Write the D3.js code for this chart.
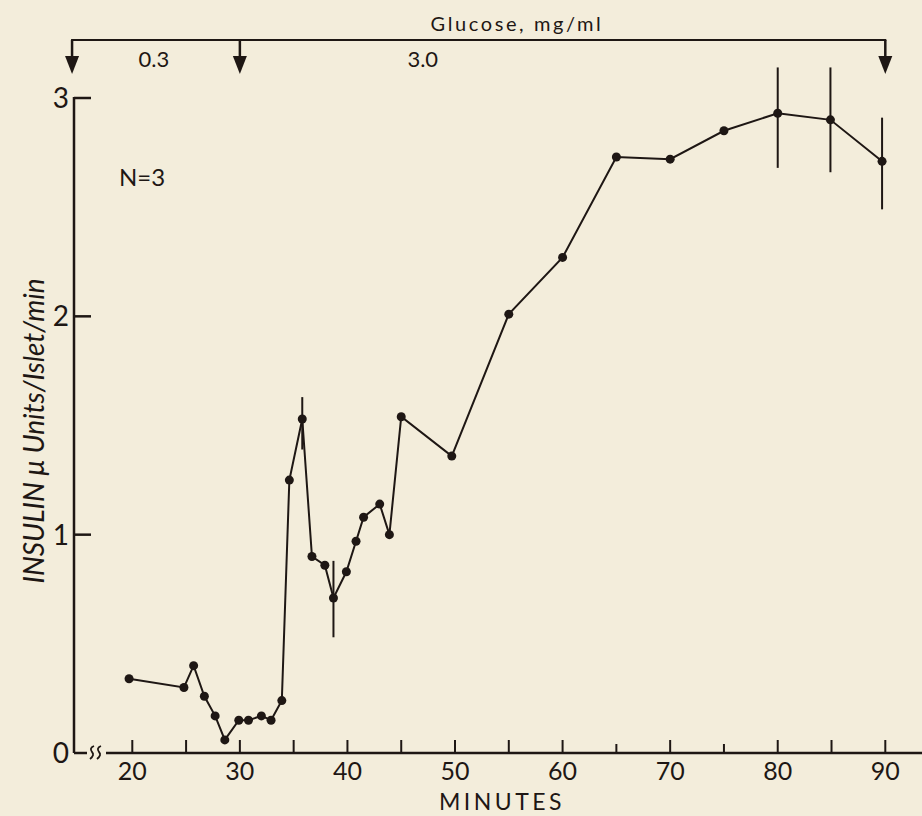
<!DOCTYPE html>
<meta charset='utf-8'>
<title>Insulin release vs time</title>
<style>
html, body {
  margin: 0;
  padding: 0;
  background: #f3eddb;
}
text {
  font-family: 'Lato', 'Open Sans', sans-serif;
  fill: #1e1714;
}
</style>
<script src='https://d3js.org/d3.v7.min.js'></script>
<body>
<script>
// Values
var minutes = [19.7, 24.8, 25.7, 26.7, 27.7, 28.6, 29.9, 30.8, 32.0, 32.9, 33.9,
  34.6, 35.8, 36.7, 37.9, 38.7, 39.9, 40.8, 41.5, 43.0, 43.9, 45.0, 49.7,
  55, 60, 65, 70, 75, 80, 84.9, 89.7];
var insulin = [0.34, 0.30, 0.40, 0.26, 0.17, 0.06, 0.15, 0.15, 0.17, 0.15, 0.24,
  1.25, 1.53, 0.90, 0.86, 0.71, 0.83, 0.97, 1.08, 1.14, 1.00, 1.54, 1.36,
  2.01, 2.27, 2.73, 2.72, 2.85, 2.93, 2.90, 2.71];

// Error bars (low / high)
var errMinutes = [35.8, 38.7, 80, 84.9, 89.7];
var errLow = [1.39, 0.53, 2.68, 2.66, 2.49];
var errHigh = [1.63, 0.88, 3.14, 3.14, 2.91];

var xTicks = [20, 25, 30, 35, 40, 45, 50, 55, 60, 65, 70, 75, 80, 85, 90];
var xTickLabels = [20, 30, 40, 50, 60, 70, 80, 90];
var yTicks = [0, 1, 2, 3];

// Glucose steps at the top
var glucoseArrows = [14.4, 30, 90];
var glucoseLabels = ['0.3', '3.0'];
var glucoseLabelAt = [22, 47];

var width = 922, height = 816;
var ink = '#1e1714';

var x = d3.scaleLinear().domain([20, 90]).range([132.3, 885.3]);
var y = d3.scaleLinear().domain([0, 3]).range([753, 98]);
var axisX = 74; // where the y axis stands

var svg = d3.select('body').append('svg')
  .attr('width', width)
  .attr('height', height);

// y axis line + ticks
svg.append('line')
  .attr('x1', axisX).attr('x2', axisX)
  .attr('y1', y(3) - 1).attr('y2', y(0))
  .attr('stroke', ink).attr('stroke-width', 2.5);

svg.selectAll('.ytick')
  .data(yTicks.filter(function (d) { return d > 0; }))
  .enter().append('line')
  .attr('class', 'ytick')
  .attr('x1', axisX).attr('x2', axisX + 17)
  .attr('y1', function (d) { return y(d); })
  .attr('y2', function (d) { return y(d); })
  .attr('stroke', ink).attr('stroke-width', 2.5);

svg.selectAll('.ylab')
  .data(yTicks)
  .enter().append('text')
  .attr('class', 'ylab')
  .attr('x', axisX - 5)
  .attr('y', function (d) { return y(d) + 10; })
  .attr('text-anchor', 'end')
  .attr('font-size', 28)
  .text(function (d) { return d; });

// x axis: short stub, break, then the long line
svg.append('line')
  .attr('x1', axisX).attr('x2', 87)
  .attr('y1', y(0)).attr('y2', y(0))
  .attr('stroke', ink).attr('stroke-width', 2.5);

svg.selectAll('.brk')
  .data([0, 7])
  .enter().append('path')
  .attr('class', 'brk')
  .attr('d', function (d) {
    var bx = 90 + d, by = y(0);
    return 'M' + (bx + 4) + ',' + (by - 7) + 'q-5,2 -2,6 q3,3 -2,7';
  })
  .attr('fill', 'none')
  .attr('stroke', ink).attr('stroke-width', 1.8);

svg.append('line')
  .attr('x1', 106).attr('x2', width)
  .attr('y1', y(0)).attr('y2', y(0))
  .attr('stroke', ink).attr('stroke-width', 2.5);

svg.selectAll('.xtick')
  .data(xTicks)
  .enter().append('line')
  .attr('class', 'xtick')
  .attr('x1', function (d) { return x(d); })
  .attr('x2', function (d) { return x(d); })
  .attr('y1', y(0))
  .attr('y2', function (d) { return y(0) - (d === 65 || d === 75 ? 9 : 13); })
  .attr('stroke', ink).attr('stroke-width', 2);

svg.selectAll('.xlab')
  .data(xTickLabels)
  .enter().append('text')
  .attr('class', 'xlab')
  .attr('x', function (d) { return x(d); })
  .attr('y', y(0) + 27)
  .attr('text-anchor', 'middle')
  .attr('font-size', 25)
  .text(function (d) { return d; });

svg.append('text')
  .attr('x', 502)
  .attr('y', 810)
  .attr('text-anchor', 'middle')
  .attr('font-size', 23)
  .attr('letter-spacing', 3.5)
  .text('MINUTES');

// y title
svg.append('text')
  .attr('transform', 'translate(44,' + 431 + ')rotate(-90)')
  .attr('text-anchor', 'middle')
  .attr('font-size', 28)
  .attr('font-style', 'italic')
  .text('INSULIN \u03bc Units/Islet/min');

svg.append('text')
  .attr('x', 119)
  .attr('y', 186)
  .attr('font-size', 24)
  .text('N=3');

// Glucose bar on top
svg.append('line')
  .attr('x1', x(glucoseArrows[0]) - 1).attr('x2', x(90) + 1)
  .attr('y1', 40).attr('y2', 40)
  .attr('stroke', ink).attr('stroke-width', 2.2);

var arrows = svg.selectAll('.arrow')
  .data(glucoseArrows)
  .enter().append('g')
  .attr('class', 'arrow')
  .attr('transform', function (d) { return 'translate(' + x(d) + ',0)'; });

arrows.append('line')
  .attr('x1', 0).attr('x2', 0)
  .attr('y1', 40).attr('y2', 60)
  .attr('stroke', ink).attr('stroke-width', 2.5);

arrows.append('path')
  .attr('d', 'M-7,56L7,56L0,74Z')
  .attr('fill', ink);

svg.append('text')
  .attr('x', 517)
  .attr('y', 31)
  .attr('text-anchor', 'middle')
  .attr('font-size', 20)
  .attr('letter-spacing', 2.6)
  .text('Glucose, mg/ml');

svg.selectAll('.glab')
  .data(glucoseLabels)
  .enter().append('text')
  .attr('class', 'glab')
  .attr('x', function (d, i) { return x(glucoseLabelAt[i]); })
  .attr('y', 67)
  .attr('text-anchor', 'middle')
  .attr('font-size', 22)
  .text(function (d) { return d; });

// error bars
svg.selectAll('.err')
  .data(errMinutes)
  .enter().append('line')
  .attr('class', 'err')
  .attr('x1', function (d) { return x(d); })
  .attr('x2', function (d) { return x(d); })
  .attr('y1', function (d, i) { return y(errLow[i]); })
  .attr('y2', function (d, i) { return y(errHigh[i]); })
  .attr('stroke', ink).attr('stroke-width', 2);

// the curve
var pts = minutes.map(function (m, i) { return [m, insulin[i]]; });
var line = d3.line()
  .x(function (d) { return x(d[0]); })
  .y(function (d) { return y(d[1]); });

svg.append('path')
  .datum(pts)
  .attr('d', line)
  .attr('fill', 'none')
  .attr('stroke', ink).attr('stroke-width', 2);

svg.selectAll('.dot')
  .data(pts)
  .enter().append('circle')
  .attr('class', 'dot')
  .attr('cx', function (d) { return x(d[0]); })
  .attr('cy', function (d) { return y(d[1]); })
  .attr('r', 4.5)
  .attr('fill', ink);
</script>
</body>
